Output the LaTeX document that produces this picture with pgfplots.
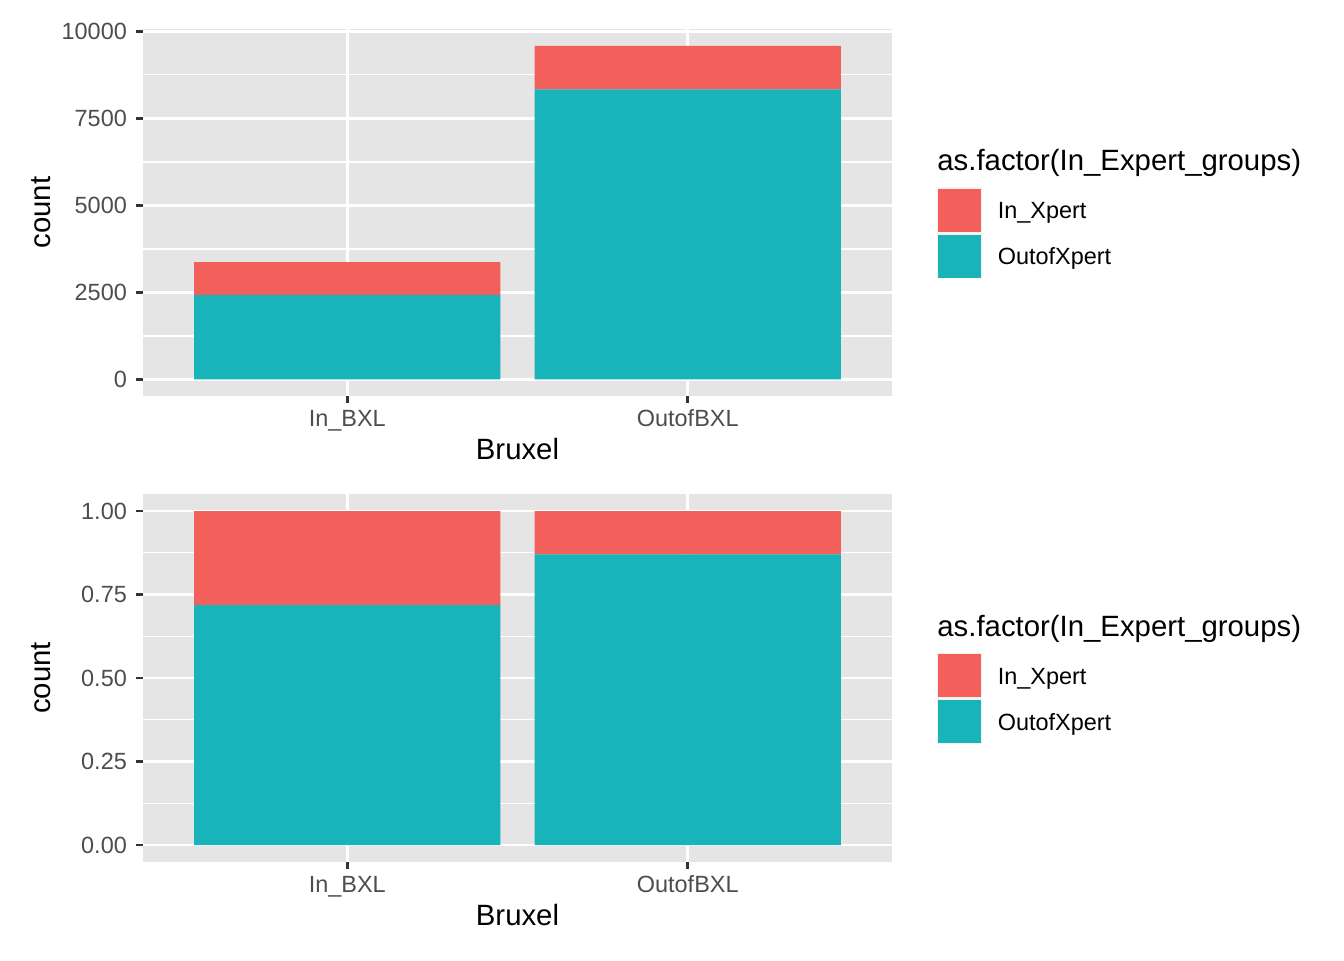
\documentclass[border=0pt]{standalone}
\usepackage{fontspec}
\setmainfont{Liberation Sans}
\usepackage{pgfplots}
\pgfplotsset{compat=1.18}

\definecolor{inx}{HTML}{F35F5B}
\definecolor{outx}{HTML}{19B4B9}
\definecolor{panel}{HTML}{E5E5E5}
\definecolor{keybg}{HTML}{F2F2F2}
\definecolor{ticklab}{HTML}{4D4D4D}
\definecolor{tickcol}{HTML}{333333}

\pgfplotsset{
  ggpanel/.style={
    scale only axis,
    width=374.5pt,
    anchor=south west,
    ybar stacked,
    bar width=0.9,
    xmin=0.4, xmax=2.6,
    xtick={1,2},
    xticklabels={In\_BXL, OutofBXL},
    scaled y ticks=false,
    axis background/.style={fill=panel},
    axis line style={draw=none},
    xmajorgrids, ymajorgrids, yminorgrids,
    major grid style={white, line width=1.42pt},
    minor grid style={white, line width=0.71pt},
    xtick pos=bottom, ytick pos=left,
    tick align=outside,
    major tick length=3.67pt,
    minor tick length=0pt,
    major tick style={tickcol, line width=1.42pt},
    ticklabel style={font=\fontsize{11.73}{13}\selectfont, text=ticklab, inner sep=0pt},
    xticklabel style={anchor=base, yshift=-11.5pt},
    yticklabel style={anchor=east, xshift=-4.2pt},
    xlabel={Bruxel},
    ylabel={count},
    label style={font=\fontsize{14.67}{16}\selectfont, inner sep=0pt},
    xlabel style={at={([yshift=-31.7pt]axis description cs:0.5,0)}, anchor=base},
    ylabel style={at={([xshift=-46.2pt]axis description cs:0,0.5)}, anchor=base, rotate=0},
  },
}

\newcommand{\gglegend}[1]{%
  \begin{scope}[yshift=#1]
    \node[anchor=base west, inner sep=0pt, font=\fontsize{14.67}{16}\selectfont] at (468.5pt,394.5pt) {as.factor(In\_Expert\_groups)};
    \fill[keybg] (468.3pt,363.5pt) rectangle (491.2pt,386.3pt);
    \fill[inx] (468.9pt,364.2pt) rectangle (490.5pt,385.5pt);
    \fill[keybg] (468.3pt,340.8pt) rectangle (491.2pt,363.5pt);
    \fill[outx] (468.9pt,341.2pt) rectangle (490.5pt,362.6pt);
    \node[anchor=base west, inner sep=0pt, font=\fontsize{11.73}{13}\selectfont] at (498.7pt,370.5pt) {In\_Xpert};
    \node[anchor=base west, inner sep=0pt, font=\fontsize{11.73}{13}\selectfont] at (498.7pt,347.5pt) {OutofXpert};
  \end{scope}%
}

\begin{document}
\begin{tikzpicture}
\useasboundingbox (0,0) rectangle (672pt,480pt);

% counts
\begin{axis}[ggpanel,
  at={(71.5pt,282pt)},
  height=183.35pt,
  ymin=-479, ymax=10057,
  ytick={0,2500,5000,7500,10000},
  yticklabels={0,2500,5000,7500,10000},
  minor ytick={1250,3750,6250,8750},
]
\addplot[fill=outx, draw=none] coordinates {(1,2420) (2,8330)};
\addplot[fill=inx, draw=none] coordinates {(1,950) (2,1250)};
\end{axis}

% proportions
\begin{axis}[ggpanel,
  at={(71.5pt,49.15pt)},
  height=183.7pt,
  ymin=-0.05, ymax=1.05,
  ytick={0,0.25,0.5,0.75,1},
  yticklabels={0.00,0.25,0.50,0.75,1.00},
  minor ytick={0.125,0.375,0.625,0.875},
]
\addplot[fill=outx, draw=none] coordinates {(1,0.718) (2,0.870)};
\addplot[fill=inx, draw=none] coordinates {(1,0.282) (2,0.130)};
\end{axis}

\gglegend{0pt}
\gglegend{-232.7pt}
\end{tikzpicture}
\end{document}
